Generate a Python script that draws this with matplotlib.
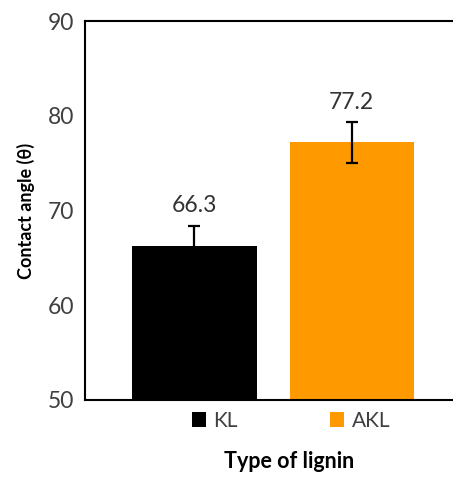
import matplotlib
matplotlib.use("Agg")
import matplotlib.pyplot as plt
import numpy as np

# data
categories = ["KL", "AKL"]
values = [66.3, 77.2]
errors = [2.1, 2.15]
colors = ["#000000", "#FF9900"]
yticks = [50, 60, 70, 80, 90]

plt.rcParams['font.family'] = ['Lato', 'DejaVu Sans']

fig = plt.figure(figsize=(4.53, 4.82), dpi=100)
ax = fig.add_axes([85 / 453, 1 - 400 / 482, (460 - 85) / 453, (400 - 21) / 482])

x = np.arange(len(categories))
for i in range(len(categories)):
    ax.bar(x[i], values[i], width=0.79, color=colors[i], label=categories[i], zorder=2)
    ax.errorbar(x[i], values[i], yerr=errors[i], fmt='none', ecolor='black',
                elinewidth=1.6, capsize=4, capthick=1.6, zorder=3)
    ax.annotate(f"{values[i]:.1f}", (x[i], values[i]), xytext=(0, 29),
                textcoords='offset points', ha='center', va='center',
                fontsize=16.5, color='#333333')

ax.set_ylim(50, 90)
ax.set_xlim(-0.697, 1.69)
ax.set_yticks(yticks)
ax.set_xticks([])
ax.tick_params(axis='y', length=0, pad=8, labelsize=16.5, labelcolor='#404040')
for s in ax.spines.values():
    s.set_linewidth(1.5)
    s.set_color('black')

ax.set_ylabel("Contact angle (\u03b8)", fontsize=13, fontweight='bold', labelpad=9)
fig.text(289 / 453, 1 - 462 / 482, "Type of lignin", ha='center', va='center',
         fontsize=15.5, fontweight='bold')

leg = fig.legend(loc='center', bbox_to_anchor=(291 / 453, 1 - 421 / 482), ncol=2,
                 frameon=False, fontsize=15, handlelength=0.7, handleheight=0.7,
                 handletextpad=0.35, columnspacing=4.4, labelcolor='#404040')

fig.savefig("out.png", dpi=100)
